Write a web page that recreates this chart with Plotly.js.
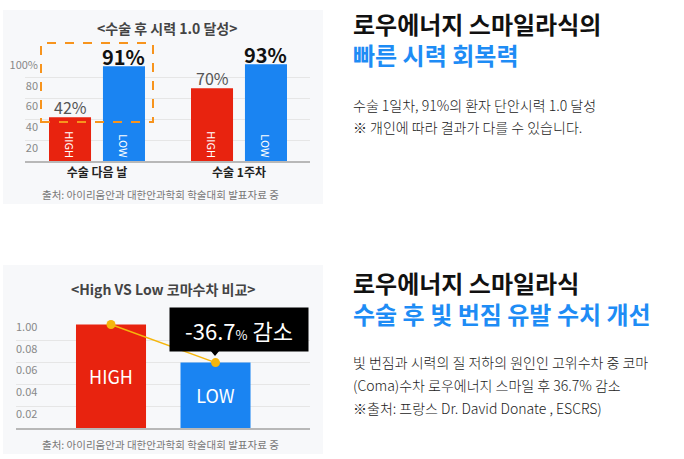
<!DOCTYPE html>
<html>
<head>
<meta charset="utf-8">
<script src="https://cdn.plot.ly/plotly-3.0.1.min.js"></script>
<style>
html,body{margin:0;padding:0;background:#fff;}
#chart{width:684px;height:459px;}
</style>
</head>
<body>
<div id="chart"></div>
<script>
// ---- data ----
const topCats = ['수술 다음 날', '수술 1주차'];
const highVals = [42, 70];
const lowVals = [91, 93];
const topTickVals = [20, 40, 60, 80, 100];
const topTickText = ['20', '40', '60', '80', '100%'];

const comaCats = ['HIGH', 'LOW'];
const comaVals = [0.095, 0.060];
const comaTickVals = [0.02, 0.04, 0.06, 0.08, 0.10];
const comaTickText = ['0.02', '0.04', '0.06', '0.08', '1.00'];
const reductionText = '-36.7';

const topTitle = '<수술 후 시력 1.0 달성>';
const bottomTitle = '<High VS Low 코마수차 비교>';
const sourceText = '출처: 아이리움안과 대한안과학회 학술대회 발표자료 중';

// ---- styles ----
const W = 684, H = 459;
const FONT = '"Noto Sans CJK KR", "Noto Sans", sans-serif';
const RED = '#e8230f';
const BLUE = '#1a84f2';
const GOLD = '#f5b60c';
const HEAD_BLUE = '#1e8cf5';
const px = v => v / W;
const py = v => 1 - v / H;

const barW = 0.296, hiOff = -0.338, loOff = 0.042;

const traces = [
  {
    type: 'bar', name: 'HIGH', x: topCats, y: highVals, xaxis: 'x', yaxis: 'y',
    width: barW, offset: hiOff, marker: {color: RED},
    text: topCats.map(() => 'HIGH'), textposition: 'inside', insidetextanchor: 'start',
    textangle: 90, textfont: {color: '#fff', size: 11, family: FONT},
    cliponaxis: false, hoverinfo: 'skip'
  },
  {
    type: 'bar', name: 'LOW', x: topCats, y: lowVals, xaxis: 'x', yaxis: 'y',
    width: barW, offset: loOff, marker: {color: BLUE},
    text: topCats.map(() => 'LOW'), textposition: 'inside', insidetextanchor: 'start',
    textangle: 90, textfont: {color: '#fff', size: 11, family: FONT},
    cliponaxis: false, hoverinfo: 'skip'
  },
  {
    type: 'bar', x: comaCats, y: comaVals, xaxis: 'x2', yaxis: 'y2',
    width: 0.67, marker: {color: [RED, BLUE]},
    text: comaCats, textposition: 'inside', insidetextanchor: 'middle', textangle: 0,
    textfont: {color: '#fff', size: 18, family: FONT},
    hoverinfo: 'skip'
  },
  {
    type: 'scatter', mode: 'lines+markers', x: comaCats, y: comaVals, xaxis: 'x2', yaxis: 'y2',
    line: {color: GOLD, width: 1.5}, marker: {color: GOLD, size: 9},
    cliponaxis: false, hoverinfo: 'skip'
  }
];

const annotations = [];
topCats.forEach((c, i) => {
  annotations.push({
    xref: 'x', yref: 'y', x: i + hiOff + barW / 2, y: highVals[i], yanchor: 'bottom', showarrow: false,
    yshift: -4, text: highVals[i] + '%', font: {family: FONT, size: 16, color: '#555'}
  });
  annotations.push({
    xref: 'x', yref: 'y', x: i + loOff + barW / 2, y: lowVals[i], yanchor: 'bottom', showarrow: false,
    yshift: -7, text: lowVals[i] + '%', font: {family: FONT, size: 20, color: '#111', weight: 'bold'}
  });
});

function txt(t, x, y, size, color, weight, anchor) {
  annotations.push({
    xref: 'paper', yref: 'paper', x: px(x), y: py(y), xanchor: anchor || 'left', yanchor: 'middle',
    align: 'left', showarrow: false, text: t,
    font: {family: FONT, size: size, color: color, weight: weight || 'normal'}
  });
}
// chart titles and sources
txt(topTitle, 167, 28, 14, '#444', 'bold', 'center');
txt(sourceText, 160, 194, 10.5, '#777', 'normal', 'center');
txt(bottomTitle, 163, 289, 14, '#444', 'bold', 'center');
txt(sourceText, 160, 444, 10.5, '#777', 'normal', 'center');

// callout
annotations.push({
  xref: 'paper', yref: 'paper', x: px(239), y: py(329.5), xanchor: 'center', yanchor: 'middle',
  showarrow: false, width: 138, height: 43, bgcolor: '#000', borderpad: 0,
  text: reductionText + '<span style="font-size:13px">%</span> 감소',
  font: {family: FONT, size: 22, color: '#fff'}
});

// right side texts
txt('로우에너지 스마일라식의<br><span style="color:' + HEAD_BLUE + '">빠른 시력 회복력</span>',
    351, 39.5, 24, '#111', 'bold');
txt('수술 1일차, 91%의 환자 단안시력 1.0 달성', 351, 105, 14, '#222', '300');
txt('※ 개인에 따라 결과가 다를 수 있습니다.', 351, 127, 14, '#222', '300');

txt('로우에너지 스마일라식<br><span style="color:' + HEAD_BLUE + '">수술 후 빛 번짐 유발 수치 개선</span>',
    351, 297.5, 24, '#111', 'bold');
txt('빛 번짐과 시력의 질 저하의 원인인 고위수차 중 코마', 351, 362, 14, '#222', '300');
txt('(Coma)수차 로우에너지 스마일 후 36.7% 감소', 351, 385, 14, '#222', '300');
txt('※출처: 프랑스 Dr. David Donate , ESCRS)', 351, 408, 14, '#222', '300');

const shapes = [
  {type: 'rect', xref: 'paper', yref: 'paper', x0: px(3), x1: px(323), y0: py(204), y1: py(10),
   fillcolor: '#f7f8fa', line: {width: 0}, layer: 'below'},
  {type: 'rect', xref: 'paper', yref: 'paper', x0: px(3), x1: px(323), y0: py(454), y1: py(265),
   fillcolor: '#f7f8fa', line: {width: 0}, layer: 'below'},
  {type: 'rect', xref: 'paper', yref: 'paper', x0: px(41), x1: px(153), y0: py(122), y1: py(43),
   line: {color: '#f7941d', width: 2, dash: 'dash'}, fillcolor: 'rgba(0,0,0,0)', layer: 'above'},
  {type: 'path', xref: 'paper', yref: 'paper',
   path: `M ${px(210)} ${py(350)} L ${px(220)} ${py(350)} L ${px(215)} ${py(356)} Z`,
   fillcolor: '#000', line: {width: 0}}
];

const layout = {
  width: W, height: H,
  margin: {l: 0, r: 0, t: 0, b: 0, pad: 0},
  paper_bgcolor: '#fff', plot_bgcolor: 'rgba(0,0,0,0)',
  showlegend: false, barmode: 'overlay',
  font: {family: FONT},
  xaxis: {
    domain: [px(25), px(310)], range: [-0.507, 1.5], type: 'category', anchor: 'y',
    showline: true, linecolor: '#b8b8b8', linewidth: 1.5, ticks: '', showgrid: false,
    tickfont: {size: 12, color: '#222', weight: 'bold', family: FONT}, fixedrange: true
  },
  yaxis: {
    domain: [py(161), py(57)], range: [0, 100], anchor: 'x',
    tickvals: topTickVals, ticktext: topTickText, gridcolor: '#e6e6e6', gridwidth: 1,
    zeroline: false, showline: false, ticks: '',
    tickfont: {size: 11, color: '#888', family: FONT},
    ticklabelshift: 8, ticklabelstandoff: -14, fixedrange: true
  },
  xaxis2: {
    domain: [px(16), px(310)], range: [-0.909, 1.904], type: 'category', anchor: 'y2',
    showline: true, linecolor: '#b8b8b8', linewidth: 1.5, ticks: '', showgrid: false,
    showticklabels: false, fixedrange: true
  },
  yaxis2: {
    domain: [py(428), py(319)], range: [0, 0.10], anchor: 'x2',
    tickvals: comaTickVals, ticktext: comaTickText, gridcolor: '#e6e6e6', gridwidth: 1,
    zeroline: false, showline: false, ticks: '', ticklabelposition: 'inside',
    ticklabeloverflow: 'allow',
    tickfont: {size: 11, color: '#888', family: FONT},
    ticklabelshift: 8, ticklabelstandoff: -3, fixedrange: true
  },
  annotations: annotations,
  shapes: shapes
};

Plotly.newPlot('chart', traces, layout, {displayModeBar: false, staticPlot: true});
</script>
</body>
</html>
